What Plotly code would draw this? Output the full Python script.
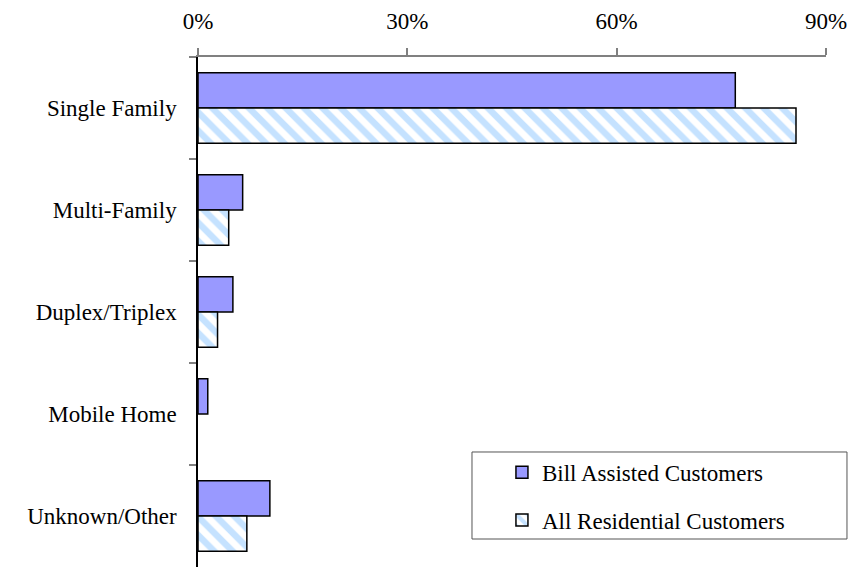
import plotly.graph_objects as go

# Dwelling type shares (percent of customers)
categories = ["Single Family", "Multi-Family", "Duplex/Triplex", "Mobile Home", "Unknown/Other"]
bill_assisted = [77.0, 6.4, 5.0, 1.4, 10.3]
all_residential = [85.7, 4.4, 2.8, 0.0, 7.0]
tick_values = [0, 30, 60, 90]
tick_labels = ["0%", "30%", "60%", "90%"]

FONT = "Liberation Serif"
SIZE = 23


def outline_widths(values):
    # zero-length bars get no outline so nothing is drawn for them
    return [0 if v == 0 else 1.5 for v in values]


fig = go.Figure()
fig.add_trace(go.Bar(
    y=categories, x=bill_assisted, orientation="h",
    name="Bill Assisted Customers", legendgroup="a",
    marker=dict(color="#9999FF",
                line=dict(color="black", width=outline_widths(bill_assisted))),
))
fig.add_trace(go.Bar(
    y=categories, x=all_residential, orientation="h",
    name="All Residential Customers", legendgroup="b",
    marker=dict(
        color="white",
        line=dict(color="black", width=outline_widths(all_residential)),
        pattern=dict(shape="\\", fgcolor="#8CC6FF", bgcolor="white",
                     size=13, solidity=0.5),
    ),
))

fig.update_layout(
    width=851, height=567,
    margin=dict(l=198, r=25, t=57, b=0),
    paper_bgcolor="white", plot_bgcolor="white",
    font=dict(family=FONT, size=SIZE, color="black"),
    barmode="group", bargap=0.31, bargroupgap=0,
    showlegend=True,
    legend=dict(
        x=0.484, y=0.228, xanchor="left", yanchor="top",
        bgcolor="rgba(0,0,0,0)", borderwidth=0,
        traceorder="grouped", tracegroupgap=15,
        font=dict(family=FONT, size=SIZE, color="black"),
    ),
    shapes=[dict(
        type="rect", xref="paper", yref="paper",
        x0=0.4363, x1=1.0334, y0=0.0549, y1=0.2255,
        line=dict(color="#555555", width=1), fillcolor="white", layer="below",
    )],
)

fig.update_xaxes(
    side="top", range=[0, 90], tickvals=tick_values, ticktext=tick_labels,
    showgrid=False, zeroline=False,
    showline=True, linecolor="#808080", linewidth=1.5,
    ticks="outside", ticklen=7, tickcolor="#808080", tickwidth=1.5,
    ticklabelstandoff=10,
    tickfont=dict(family=FONT, size=SIZE, color="black"),
)
fig.update_yaxes(
    autorange="reversed", showgrid=False, zeroline=False,
    showline=True, linecolor="black", linewidth=1.5,
    ticks="outside", tickson="boundaries", ticklen=7,
    tickcolor="#808080", tickwidth=1.5,
    ticklabelstandoff=15,
    tickfont=dict(family=FONT, size=SIZE, color="black"),
)

fig.write_html("out.html")
